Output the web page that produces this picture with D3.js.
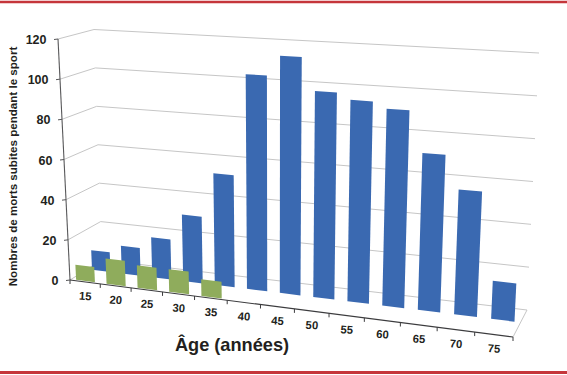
<!DOCTYPE html>
<html>
<head>
<meta charset="utf-8">
<script src="https://d3js.org/d3.v7.min.js"></script>
<style>
  html, body { margin: 0; padding: 0; background: #fff; }
  svg { display: block; }
  text { font-family: "Liberation Sans", Arial, sans-serif; font-weight: bold; fill: #231f20; }
</style>
</head>
<body>
<div id="chart"></div>
<script>
var ages = ["15", "20", "25", "30", "35", "40", "45", "50", "55", "60", "65", "70", "75"];
var yTicks = [0, 20, 40, 60, 80, 100, 120];
var blueAges = ages;
var blueValues = [10, 14, 20, 33, 55, 105, 115, 99, 96, 93, 73.5, 58, 17.5];
var greenAges = ["15", "20", "25", "30", "35"];
var greenValues = [7.5, 12.5, 11, 11, 8];

var width = 567, height = 375;

var svg = d3.select("#chart").append("svg")
  .attr("width", width)
  .attr("height", height);

// corners of the 3d box as seen on the picture
var frontBL = [70, 280], frontBR = [513, 337], frontTL = [58, 39], frontTR = [527, 68];
var backBL = [102, 260], backBR = [527, 310], backTL = [94, 29.5], backTR = [539, 53];

var x = d3.scaleBand().domain(ages).range([0, 1]).paddingInner(0.38).paddingOuter(0.16);
var xTick = d3.scaleLinear().domain([0, ages.length]).range([0, 1]);
var y = d3.scaleLinear().domain([0, 120]).range([0, 1]);

function mix(a, b, t) {
  return [a[0] + (b[0] - a[0]) * t, a[1] + (b[1] - a[1]) * t];
}

// u along the ages, v up the value axis, w from front to back
function project(u, v, w) {
  var c = 0.12;
  var p = u * (1 - c) / (1 - c * u); // perspective, the right side is nearer
  var front = mix(mix(frontBL, frontBR, p), mix(frontTL, frontTR, p), v);
  var back = mix(mix(backBL, backBR, p), mix(backTL, backTR, p), v);
  return mix(front, back, w);
}

var line = d3.line();

function barPath(age, value, w) {
  var u0 = x(age), u1 = x(age) + x.bandwidth(), v = y(value);
  return line([project(u0, 0, w), project(u1, 0, w), project(u1, v, w), project(u0, v, w)]) + "Z";
}

// red rules, top and bottom
svg.selectAll(".rule")
  .data([2, 372.5])
  .enter().append("line")
  .attr("class", "rule")
  .attr("x1", 0).attr("x2", width)
  .attr("y1", function(d) { return d; })
  .attr("y2", function(d) { return d; })
  .attr("stroke", "#c5363b")
  .attr("stroke-width", function(d, i) { return i ? 3 : 2.4; });

// gridlines on left wall and back wall
svg.selectAll(".grid")
  .data(yTicks)
  .enter().append("path")
  .attr("class", "grid")
  .attr("fill", "none")
  .attr("stroke", "#c6c6c6")
  .attr("stroke-width", 1)
  .attr("d", function(d) {
    return line([project(0, y(d), 0), project(0, y(d), 1), project(1, y(d), 1)]);
  });

// right edge of the floor
svg.append("path")
  .attr("fill", "none")
  .attr("stroke", "#c6c6c6")
  .attr("d", line([project(1, 0, 0), project(1, 0, 1)]));

svg.selectAll(".blue")
  .data(blueValues)
  .enter().append("path")
  .attr("class", "blue")
  .attr("fill", "#3a69b1")
  .attr("d", function(d, i) { return barPath(blueAges[i], d, 0.54); });

svg.selectAll(".green")
  .data(greenValues)
  .enter().append("path")
  .attr("class", "green")
  .attr("fill", "#8fac5c")
  .attr("d", function(d, i) { return barPath(greenAges[i], d, 0.04); });

// value axis
svg.append("path")
  .attr("fill", "none")
  .attr("stroke", "#58585a")
  .attr("stroke-width", 1.1)
  .attr("d", line([project(0, 0, 0), project(0, 1, 0)]));

svg.selectAll(".ytick")
  .data(yTicks)
  .enter().append("path")
  .attr("class", "ytick")
  .attr("fill", "none")
  .attr("stroke", "#58585a")
  .attr("d", function(d) {
    var p = project(0, y(d), 0);
    return line([[p[0] - 4, p[1] + 0.5], p]);
  });

svg.selectAll(".ylabel")
  .data(yTicks)
  .enter().append("text")
  .attr("class", "ylabel")
  .attr("text-anchor", "end")
  .attr("font-size", 12.5)
  .attr("x", function(d) { return project(0, y(d), 0)[0] - 11.5; })
  .attr("y", function(d) { return project(0, y(d), 0)[1] + 5; })
  .text(function(d) { return d; });

// age axis
svg.append("path")
  .attr("fill", "none")
  .attr("stroke", "#3c3c3e")
  .attr("stroke-width", 1.1)
  .attr("d", line([project(0, 0, 0), project(1, 0, 0)]));

svg.selectAll(".xtick")
  .data(d3.range(ages.length + 1))
  .enter().append("path")
  .attr("class", "xtick")
  .attr("fill", "none")
  .attr("stroke", "#3c3c3e")
  .attr("d", function(d) {
    var p = project(xTick(d), 0, 0);
    return line([p, [p[0], p[1] + 4]]);
  });

svg.selectAll(".xlabel")
  .data(ages)
  .enter().append("text")
  .attr("class", "xlabel")
  .attr("text-anchor", "middle")
  .attr("font-size", 11.3)
  .attr("transform", function(d, i) {
    var p = project(xTick(i + 0.5), 0, 0);
    return "translate(" + p[0] + "," + (p[1] + 18) + ") rotate(4)";
  })
  .text(function(d) { return d; });

svg.append("text")
  .attr("x", 232)
  .attr("y", 350.5)
  .attr("text-anchor", "middle")
  .attr("font-size", 18.2)
  .text("Âge (années)");

svg.append("text")
  .attr("transform", "translate(16.5,166.5) rotate(-90)")
  .attr("text-anchor", "middle")
  .attr("font-size", 11.6)
  .attr("fill", "#333")
  .text("Nombres de morts subites pendant le sport");
</script>
</body>
</html>
